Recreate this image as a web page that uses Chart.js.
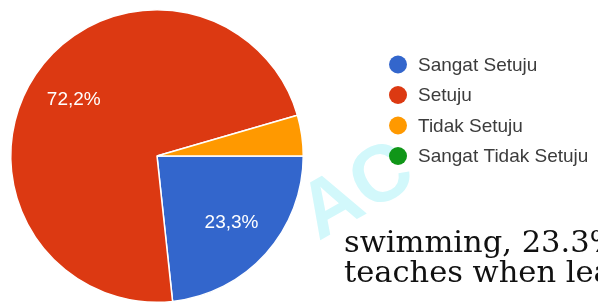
<!DOCTYPE html>
<html>
<head>
<meta charset="utf-8">
<script src="https://cdn.jsdelivr.net/npm/chart.js@4"></script>
<style>
	html, body { margin: 0; padding: 0; background: #fff; overflow: hidden; }
	#wrap { position: relative; width: 598px; height: 302px; overflow: hidden; }
	#wrap canvas { position: absolute; left: 0; top: 0; }
	.mark {
		position: absolute; left: 282px; top: 178px;
		font: bold 80px 'Liberation Sans', Arial, sans-serif;
		color: #d2f8fb; transform: rotate(-30deg); transform-origin: 0 0;
		white-space: nowrap;
	}
	.para {
		position: absolute; left: 344px; top: 227px;
		font: 30.5px 'DejaVu Serif', serif; line-height: 30px;
		color: #111; white-space: nowrap;
	}
</style>
</head>
<body>
<div id="wrap">
	<div class="mark">AC</div>
	<canvas id="pieChart" width="598" height="312"></canvas>
	<div class="para">swimming, 23.3%<br>teaches when lea</div>
</div>
<script>
// Response breakdown (percent)
const categories = ['Sangat Setuju', 'Setuju', 'Tidak Setuju', 'Sangat Tidak Setuju'];
const percentages = [23.3, 72.2, 4.5, 0];
const sliceColors = ['#3366cc', '#dc3912', '#ff9900', '#109618'];

const fontFamily = "'Liberation Sans', Arial, sans-serif";

// Percent labels inside the bigger slices
const sliceLabels = {
	id: 'sliceLabels',
	afterDatasetsDraw(chart) {
		const ctx = chart.ctx;
		const meta = chart.getDatasetMeta(0);
		ctx.save();
		ctx.font = '19px ' + fontFamily;
		ctx.fillStyle = '#fff';
		ctx.textAlign = 'center';
		ctx.textBaseline = 'middle';
		meta.data.forEach((arc, i) => {
			const value = chart.data.datasets[0].data[i];
			if (value < 10) return;
			const p = arc.getProps(['x', 'y', 'startAngle', 'endAngle', 'outerRadius'], true);
			const mid = (p.startAngle + p.endAngle) / 2;
			const r = p.outerRadius * 0.685;
			ctx.fillText(value.toFixed(1).replace('.', ',') + '%', p.x + Math.cos(mid) * r, p.y + Math.sin(mid) * r);
		});
		ctx.restore();
	}
};

// Legend drawn to the right, dots + labels
const sideLegend = {
	id: 'sideLegend',
	afterDraw(chart) {
		const ctx = chart.ctx;
		const colors = chart.data.datasets[0].backgroundColor;
		ctx.save();
		ctx.font = '19px ' + fontFamily;
		ctx.textBaseline = 'middle';
		chart.data.labels.forEach((label, i) => {
			const y = 64.5 + i * 30.5;
			ctx.beginPath();
			ctx.arc(398, y, 9, 0, Math.PI * 2);
			ctx.fillStyle = colors[i];
			ctx.fill();
			ctx.fillStyle = '#3c3c3c';
			ctx.fillText(label, 418, y + 1);
		});
		ctx.restore();
	}
};

new Chart(document.getElementById('pieChart').getContext('2d'), {
	type: 'pie',
	data: {
		labels: categories,
		datasets: [{
			data: percentages,
			backgroundColor: sliceColors,
			borderColor: '#fff',
			borderWidth: 1.5
		}]
	},
	options: {
		responsive: false,
		animation: false,
		rotation: 90,
		layout: { padding: { left: 10, right: 294, top: 9, bottom: 9 } },
		plugins: {
			legend: { display: false },
			tooltip: { enabled: false }
		}
	},
	plugins: [sliceLabels, sideLegend]
});
</script>
</body>
</html>
